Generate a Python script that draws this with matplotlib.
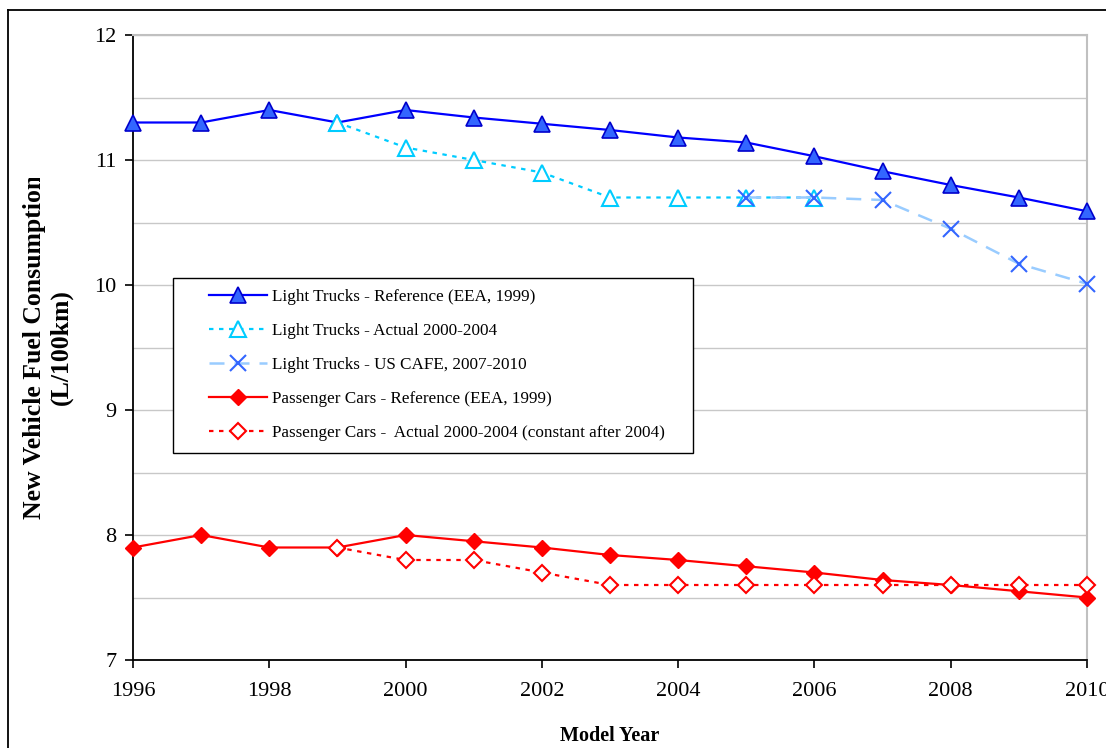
import matplotlib
matplotlib.use("Agg")
import matplotlib.pyplot as plt
from matplotlib.patches import Rectangle
from matplotlib.lines import Line2D
from matplotlib.transforms import Bbox

plt.rcParams['font.family'] = ['Liberation Serif', 'DejaVu Serif']

years = list(range(1996, 2011))
lt_ref = [11.3, 11.3, 11.4, 11.3, 11.4, 11.34, 11.29, 11.24, 11.18, 11.14, 11.03, 10.91, 10.8, 10.7, 10.59]
lt_act_years = list(range(1999, 2007))
lt_act = [11.3, 11.1, 11.0, 10.9, 10.7, 10.7, 10.7, 10.7]
cafe_years = list(range(2005, 2011))
lt_cafe = [10.7, 10.7, 10.68, 10.45, 10.17, 10.01]
pc_ref = [7.9, 8.0, 7.9, 7.9, 8.0, 7.95, 7.9, 7.84, 7.8, 7.75, 7.7, 7.64, 7.6, 7.55, 7.5]
pc_act_years = list(range(1999, 2011))
pc_act = [7.9, 7.8, 7.8, 7.7, 7.6, 7.6, 7.6, 7.6, 7.6, 7.6, 7.6, 7.6]

labels = ["Light Trucks - Reference (EEA, 1999)",
          "Light Trucks - Actual 2000-2004",
          "Light Trucks - US CAFE, 2007-2010",
          "Passenger Cars - Reference (EEA, 1999)",
          "Passenger Cars -  Actual 2000-2004 (constant after 2004)"]

fig = plt.figure(figsize=(11.06, 7.48), dpi=100)
ax = fig.add_axes([133/1106, 1-660/748, (1087-133)/1106, (660-35)/748])

h1, = ax.plot(years, lt_ref, color='#0000ff', lw=1.6, marker='^', ms=11,
              mfc='#3366ff', mec='#0000cc', mew=1.2, zorder=3, clip_on=False)
h2, = ax.plot(lt_act_years, lt_act, color='#00ccff', lw=1.6, dashes=(2, 2.5),
              marker='^', ms=11, mfc='white', mec='#00ccff', mew=1.5, zorder=4, clip_on=False)
h3, = ax.plot(cafe_years, lt_cafe, color='#99ccff', lw=1.8, dashes=(6, 4),
              marker='x', ms=11, mec='#3366ff', mew=1.5, zorder=5, clip_on=False)
h4, = ax.plot(years, pc_ref, color='#ff0000', lw=1.6, marker='D', ms=8.5,
              mfc='#ff0000', mec='#ff0000', zorder=3, clip_on=False)
h5, = ax.plot(pc_act_years, pc_act, color='#ff0000', lw=1.6, dashes=(2, 2.5),
              marker='D', ms=8.5, mfc='white', mec='#ff0000', mew=1.5, zorder=4, clip_on=False)

ax.set_xlim(1996, 2010)
ax.set_ylim(7, 12)
ax.set_xticks(range(1996, 2011, 2))
ax.set_yticks(range(7, 13))
ax.set_yticks([7.5 + i for i in range(5)], minor=True)
ax.tick_params(which='major', direction='out', length=6, width=1.2, labelsize=16, pad=6)
ax.tick_params(axis='x', pad=10)
ax.tick_params(which='minor', length=0)
ax.grid(True, which='both', axis='y', color='#c8c8c8', lw=1)
ax.set_axisbelow(True)
for s in ['left', 'bottom']:
    ax.spines[s].set_linewidth(1.3)
for s in ['top', 'right']:
    ax.spines[s].set_color('#c0c0c0')
    ax.spines[s].set_linewidth(1.5)

ax.set_xlabel("Model Year", fontsize=14.5, fontweight='bold', labelpad=18)

# legend box drawn separately so the handles can sit further in
ax.add_patch(Rectangle((0.042, 0.331), 0.545, 0.28, transform=ax.transAxes,
                       facecolor='white', edgecolor='black', lw=1, zorder=6))
leg = ax.legend([h1, h2, h3, h4, h5], labels, loc='upper left',
                bbox_to_anchor=(0.08, 0.594), frameon=False, fontsize=12.3,
                borderpad=0, borderaxespad=0, handlelength=3.4,
                handletextpad=0.25, labelspacing=1.06)
leg.set_zorder(7)

# y label, clipped at the top like the original
yl = fig.text(48/1106, 1-347/748, "New Vehicle Fuel Consumption\n(L/100km)",
              rotation=90, ha='center', va='center', fontsize=18.5,
              fontweight='bold', linespacing=1.15)
yl.set_clip_box(Bbox([[0, 0], [1106, 748-178]]))
yl.set_clip_on(True)

# outer frame
x0 = 8/1106
y0 = 1-10/748
fig.add_artist(Line2D([x0, x0], [0, y0], color='black', lw=1.3, transform=fig.transFigure))
fig.add_artist(Line2D([x0, 1], [y0, y0], color='black', lw=1.3, transform=fig.transFigure))

fig.savefig("out.png", dpi=100)
